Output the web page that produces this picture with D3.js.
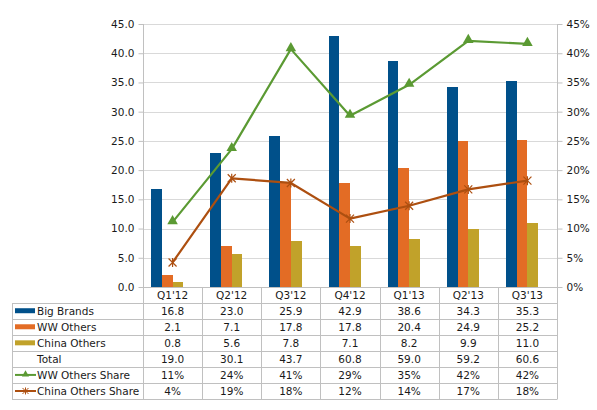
<!DOCTYPE html>
<html>
<head>
<meta charset="utf-8">
<script src="https://cdn.jsdelivr.net/npm/d3@7"></script>
<style>
  html, body { margin: 0; padding: 0; background: #fff; }
  svg { display: block; font-family: "DejaVu Sans", Verdana, sans-serif; }
</style>
</head>
<body>
<svg id="chart" width="597" height="410"></svg>
<script>
const categories = ["Q1'12", "Q2'12", "Q3'12", "Q4'12", "Q1'13", "Q2'13", "Q3'13"];
const bigBrands = [16.8, 23.0, 25.9, 42.9, 38.6, 34.3, 35.3];
const wwOthers = [2.1, 7.1, 17.8, 17.8, 20.4, 24.9, 25.2];
const chinaOthers = [0.8, 5.6, 7.8, 7.1, 8.2, 9.9, 11.0];
const total = [19.0, 30.1, 43.7, 60.8, 59.0, 59.2, 60.6];
const wwShare = [11.1, 23.6, 40.7, 29.3, 34.6, 42.1, 41.6];      // percent
const chinaShare = [4.2, 18.6, 17.8, 11.7, 13.9, 16.7, 18.2];    // percent
const leftTicks = [0, 5, 10, 15, 20, 25, 30, 35, 40, 45];
const rightTicks = [0, 5, 10, 15, 20, 25, 30, 35, 40, 45];

const colors = {
  big: "#00508a", ww: "#e36c25", china: "#c1a22a",
  wwLine: "#5b9a33", chinaLine: "#ad4f10",
  grid: "#d9d9d9", border: "#c0c0c0", text: "#1a1a1a"
};

const svg = d3.select("#chart");
const plot = { left: 143, right: 557, top: 24, bottom: 287 };
const fontSize = 10.5;

const x0 = d3.scaleBand().domain(categories).range([plot.left, plot.right])
  .paddingInner(0.277).paddingOuter(0.1385);
const barSeries = ["big", "ww", "china", "total"];
const x1 = d3.scaleBand().domain(barSeries).range([0, x0.bandwidth()]);
const yL = d3.scaleLinear().domain([0, 45]).range([plot.bottom, plot.top]);
const yR = d3.scaleLinear().domain([0, 45]).range([plot.bottom, plot.top]);

// gridlines
svg.append("g").selectAll("line").data(leftTicks.filter(d => d > 0)).join("line")
  .attr("x1", plot.left).attr("x2", plot.right)
  .attr("y1", d => Math.round(yL(d)) + 0.5).attr("y2", d => Math.round(yL(d)) + 0.5)
  .attr("stroke", colors.grid).attr("stroke-width", 1);

// left axis
const gL = svg.append("g").attr("transform", `translate(${plot.left + 0.5},0)`)
  .call(d3.axisLeft(yL).tickValues(leftTicks).tickFormat(d3.format(".1f")).tickSize(5).tickPadding(4));
gL.select(".domain").remove();
gL.selectAll(".tick line").attr("stroke", colors.border);
gL.selectAll(".tick text").attr("fill", colors.text).style("font-size", fontSize + "px")
  .style("font-family", "DejaVu Sans, Verdana, sans-serif");

// right axis
const gR = svg.append("g").attr("transform", `translate(${plot.right + 0.5},0)`)
  .call(d3.axisRight(yR).tickValues(rightTicks).tickFormat(d => d + "%").tickSize(5).tickPadding(4));
gR.select(".domain").remove();
gR.selectAll(".tick line").attr("stroke", colors.border);
gR.selectAll(".tick text").attr("fill", colors.text).style("font-size", fontSize + "px")
  .style("font-family", "DejaVu Sans, Verdana, sans-serif");

// bars
const barData = categories.map((c, i) => ({
  c, vals: [
    { k: "big", v: bigBrands[i] }, { k: "ww", v: wwOthers[i] },
    { k: "china", v: chinaOthers[i] }, { k: "total", v: total[i] }
  ]
}));
svg.append("g").selectAll("g").data(barData).join("g")
  .attr("transform", d => `translate(${x0(d.c)},0)`)
  .selectAll("rect").data(d => d.vals.filter(v => v.k !== "total")).join("rect")
  .attr("x", d => x1(d.k)).attr("width", x1.bandwidth())
  .attr("y", d => yL(d.v)).attr("height", d => yL(0) - yL(d.v))
  .attr("fill", d => colors[d.k]).attr("shape-rendering", "crispEdges");

// table
const table = { left: 12, top: 287, headerBottom: 302.7, rowH: 16.05 };
const rows = [
  { label: "Big Brands", key: "rect", color: colors.big, vals: bigBrands.map(d3.format(".1f")) },
  { label: "WW Others", key: "rect", color: colors.ww, vals: wwOthers.map(d3.format(".1f")) },
  { label: "China Others", key: "rect", color: colors.china, vals: chinaOthers.map(d3.format(".1f")) },
  { label: "Total", key: "none", vals: total.map(d3.format(".1f")) },
  { label: "WW Others Share", key: "tri", color: colors.wwLine, vals: wwShare.map(v => Math.round(v) + "%") },
  { label: "China Others Share", key: "star", color: colors.chinaLine, vals: chinaShare.map(v => Math.round(v) + "%") }
];
const tableBottom = table.headerBottom + rows.length * table.rowH;
const tg = svg.append("g");
// horizontal lines
const hLines = d3.range(rows.length + 1).map(i => table.headerBottom + i * table.rowH);
tg.selectAll("line.h").data(hLines).join("line").attr("class", "h")
  .attr("x1", table.left).attr("x2", plot.right)
  .attr("y1", d => Math.round(d) + 0.5).attr("y2", d => Math.round(d) + 0.5)
  .attr("stroke", colors.border);
// baseline
tg.append("line").attr("x1", plot.left).attr("x2", plot.right)
  .attr("y1", Math.round(plot.bottom) + 0.5).attr("y2", Math.round(plot.bottom) + 0.5)
  .attr("stroke", colors.border);
// vertical lines
const catEdges = categories.map(c => x0(c) - x0.step() * x0.paddingInner() / 2).slice(1);
tg.selectAll("line.v").data(catEdges).join("line").attr("class", "v")
  .attr("x1", d => Math.round(d) + 0.5).attr("x2", d => Math.round(d) + 0.5)
  .attr("y1", plot.bottom).attr("y2", Math.round(tableBottom) + 0.5)
  .attr("stroke", colors.border);
tg.append("line").attr("x1", plot.left + 0.5).attr("x2", plot.left + 0.5)
  .attr("y1", plot.top).attr("y2", Math.round(tableBottom) + 0.5).attr("stroke", colors.border);
tg.append("line").attr("x1", plot.right + 0.5).attr("x2", plot.right + 0.5)
  .attr("y1", plot.top).attr("y2", Math.round(tableBottom) + 0.5).attr("stroke", colors.border);
tg.append("line").attr("x1", table.left + 0.5).attr("x2", table.left + 0.5)
  .attr("y1", Math.round(table.headerBottom) + 0.5).attr("y2", Math.round(tableBottom) + 0.5)
  .attr("stroke", colors.border);

// header labels
tg.selectAll("text.cat").data(categories).join("text").attr("class", "cat")
  .attr("x", c => x0(c) + x0.bandwidth() / 2).attr("y", (plot.bottom + table.headerBottom) / 2 + 4)
  .attr("text-anchor", "middle").attr("fill", colors.text).style("font-size", fontSize + "px")
  .text(c => c);

// rows
rows.forEach((r, i) => {
  const cy = table.headerBottom + i * table.rowH + table.rowH / 2;
  const g = tg.append("g");
  g.append("text").attr("x", 37).attr("y", cy + 4).attr("fill", colors.text)
    .style("font-size", fontSize + "px").text(r.label);
  if (r.key === "rect") {
    g.append("rect").attr("x", 15).attr("y", cy - 2.5).attr("width", 20).attr("height", 5)
      .attr("fill", r.color);
  } else if (r.key === "tri" || r.key === "star") {
    g.append("line").attr("x1", 15).attr("x2", 36).attr("y1", cy).attr("y2", cy)
      .attr("stroke", r.color).attr("stroke-width", 2);
    if (r.key === "tri") {
      g.append("path").attr("d", d3.symbol(d3.symbolTriangle, 22)())
        .attr("transform", `translate(25.5,${cy - 0.5})`).attr("fill", r.color);
    } else {
      g.append("path").attr("d", "M-3,-3L3,3M-3,3L3,-3M0,-3.5L0,3.5")
        .attr("transform", `translate(25.5,${cy})`).attr("stroke", r.color).attr("stroke-width", 1).attr("fill", "none");
    }
  }
  g.selectAll("text.v").data(r.vals).join("text").attr("class", "v")
    .attr("x", (d, j) => x0(categories[j]) + x0.bandwidth() / 2).attr("y", cy + 4)
    .attr("text-anchor", "middle").attr("fill", colors.text).style("font-size", fontSize + "px")
    .text(d => d);
});

// lines
const cx = c => x0(c) + x0.bandwidth() / 2;
const lineGen = d3.line().x(d => cx(d.c)).y(d => yR(d.v));
const wwPts = categories.map((c, i) => ({ c, v: wwShare[i] }));
const chPts = categories.map((c, i) => ({ c, v: chinaShare[i] }));
svg.append("path").datum(wwPts).attr("d", lineGen).attr("fill", "none")
  .attr("stroke", colors.wwLine).attr("stroke-width", 2.2).attr("stroke-linejoin", "round");
svg.append("g").selectAll("path").data(wwPts).join("path")
  .attr("d", d3.symbol(d3.symbolTriangle, 48)())
  .attr("transform", d => `translate(${cx(d.c)},${yR(d.v) - 1})`).attr("fill", colors.wwLine);
svg.append("path").datum(chPts).attr("d", lineGen).attr("fill", "none")
  .attr("stroke", colors.chinaLine).attr("stroke-width", 2.2).attr("stroke-linejoin", "round");
svg.append("g").selectAll("path").data(chPts).join("path")
  .attr("d", "M-4,-4L4,4M-4,4L4,-4M0,-4.5L0,4.5")
  .attr("transform", d => `translate(${cx(d.c)},${yR(d.v)})`)
  .attr("stroke", colors.chinaLine).attr("stroke-width", 1.2).attr("fill", "none");
</script>
</body>
</html>
